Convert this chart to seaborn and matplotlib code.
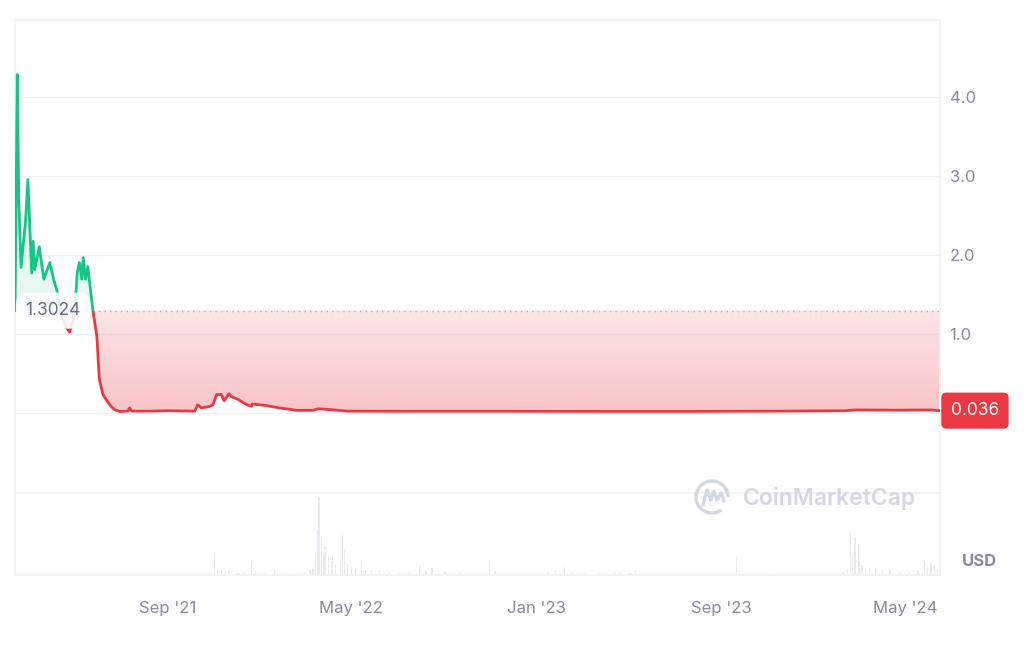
"""
Price history chart (CoinMarketCap style): price line split at the
opening price, gradient fills, volume strip underneath.
Output: out.png
"""

import pandas as pd
import numpy as np
import matplotlib
matplotlib.use("Agg")
import matplotlib.pyplot as plt
import matplotlib.dates as mdates
from matplotlib.patches import Rectangle, Arc
from matplotlib.path import Path
from matplotlib.lines import Line2D
import seaborn as sns

# ---- data ----
price_dates = [
    "2021-02-12", "2021-02-15", "2021-02-17", "2021-02-20", "2021-02-26",
    "2021-03-01", "2021-03-06", "2021-03-08", "2021-03-10", "2021-03-16",
    "2021-03-22", "2021-03-30", "2021-04-04", "2021-04-09", "2021-04-14",
    "2021-04-20", "2021-04-25", "2021-04-30", "2021-05-04", "2021-05-05",
    "2021-05-08", "2021-05-11", "2021-05-13", "2021-05-16", "2021-05-19",
    "2021-05-22", "2021-05-26", "2021-05-31", "2021-06-03", "2021-06-04",
    "2021-06-08", "2021-06-12", "2021-06-17", "2021-06-23", "2021-06-30",
    "2021-07-11", "2021-07-13", "2021-07-16", "2021-08-09", "2021-09-04",
    "2021-10-07", "2021-10-11", "2021-10-16", "2021-10-27", "2021-10-31",
    "2021-11-05", "2021-11-11", "2021-11-15", "2021-11-21", "2021-11-25",
    "2021-12-03", "2021-12-15", "2021-12-21", "2021-12-22", "2022-01-10",
    "2022-01-27", "2022-02-19", "2022-03-12", "2022-03-19", "2022-04-03",
    "2022-04-26", "2022-07-04", "2022-11-13", "2023-03-25", "2023-08-04",
    "2023-11-18", "2024-02-11", "2024-02-26", "2024-04-24", "2024-06-03",
    "2024-06-16",
]
price_values = [
    1.30, 4.29, 2.70, 1.85, 2.45,
    2.96, 1.78, 2.18, 1.82, 2.11,
    1.70, 1.91, 1.70, 1.53, 1.25,
    1.10, 1.03, 1.20, 1.60, 1.78,
    1.91, 1.70, 1.97, 1.70, 1.86,
    1.61, 1.29, 0.97, 0.47, 0.40,
    0.24, 0.18, 0.11, 0.05, 0.025,
    0.03, 0.07, 0.03, 0.03, 0.035,
    0.03, 0.11, 0.07, 0.09, 0.11,
    0.24, 0.24, 0.16, 0.25, 0.21,
    0.18, 0.11, 0.09, 0.12, 0.10,
    0.07, 0.04, 0.04, 0.06, 0.05,
    0.03, 0.028, 0.028, 0.027, 0.027,
    0.030, 0.035, 0.045, 0.042, 0.045,
    0.036,
]

vol_dates = [
    "2021-10-07", "2021-10-20", "2021-10-27", "2021-11-02", "2021-11-06",
    "2021-11-11", "2021-11-17", "2021-11-21", "2021-12-03", "2021-12-12",
    "2021-12-21", "2021-12-26", "2022-01-07", "2022-01-20", "2022-02-09",
    "2022-02-22", "2022-03-01", "2022-03-08", "2022-03-12", "2022-03-15",
    "2022-03-18", "2022-03-20", "2022-03-23", "2022-03-26", "2022-03-28",
    "2022-04-01", "2022-04-05", "2022-04-07", "2022-04-11", "2022-04-17",
    "2022-04-20", "2022-04-23", "2022-04-27", "2022-05-02", "2022-05-07",
    "2022-05-15", "2022-05-20", "2022-05-28", "2022-06-08", "2022-06-21",
    "2022-07-04", "2022-07-17", "2022-07-31", "2022-08-08", "2022-08-16",
    "2022-09-02", "2022-09-21", "2022-10-11", "2022-10-31", "2022-11-07",
    "2022-11-26", "2022-12-16", "2023-01-05", "2023-01-16", "2023-01-26",
    "2023-02-07", "2023-02-16", "2023-03-05", "2023-03-25", "2023-04-14",
    "2023-04-20", "2023-05-04", "2023-05-11", "2023-05-30", "2023-07-09",
    "2023-08-17", "2023-09-22", "2023-10-22", "2023-11-11", "2023-12-14",
    "2024-01-16", "2024-02-09", "2024-02-15", "2024-02-19", "2024-02-22",
    "2024-02-25", "2024-02-29", "2024-03-02", "2024-03-05", "2024-03-10",
    "2024-03-15", "2024-03-23", "2024-04-01", "2024-04-11", "2024-04-24",
    "2024-05-07", "2024-05-18", "2024-05-27", "2024-05-31", "2024-06-04",
    "2024-06-09", "2024-06-13",
]
vol_values = [
    1, 2, 3, 21, 4,
    5, 3, 4, 2, 3,
    12, 4, 2, 6, 2,
    2, 3, 5, 6, 17,
    45, 78, 35, 20, 28,
    18, 14, 19, 10, 13,
    40, 25, 10, 8, 6,
    13, 5, 4, 4, 3,
    2, 3, 10, 4, 7,
    3, 3, 2, 13, 4,
    2, 2, 2, 3, 4,
    8, 3, 2, 2, 3,
    3, 2, 4, 1, 1,
    1, 19, 1, 2, 1,
    1, 3, 6, 42, 20,
    37, 30, 14, 10, 8,
    7, 7, 4, 5, 3,
    3, 4, 13, 8, 12,
    10, 6,
]

OPEN_PRICE = 1.3024
OPEN_LABEL = "1.3024"
LAST_LABEL = "0.036"
X_START, X_END = "2021-02-12", "2024-06-16"
x_tick_dates = ["2021-09-01", "2022-05-01", "2023-01-01", "2023-09-01", "2024-05-01"]
x_tick_labels = ["Sep '21", "May '22", "Jan '23", "Sep '23", "May '24"]
y_ticks = [0, 1, 2, 3, 4]
y_tick_labels = ["", "1.0", "2.0", "3.0", "4.0"]

GREEN = "#16c784"
RED = "#ea3943"
GRID = "#eff2f5"
TEXT = "#858ca2"


def gradient_fill(ax, poly, rgb, a_low, a_high, y_low, y_high, x_lo, x_hi):
    """Paint a vertical alpha gradient clipped to the fill_between polygon."""
    grad = np.zeros((64, 1, 4))
    grad[..., :3] = matplotlib.colors.to_rgb(rgb)
    grad[:, 0, 3] = np.linspace(a_low, a_high, 64)
    im = ax.imshow(grad, extent=[x_lo, x_hi, y_low, y_high], origin="lower",
                   aspect="auto", zorder=1, interpolation="bilinear")
    paths = poly.get_paths()
    if paths:
        im.set_clip_path(Path.make_compound_path(*paths), ax.transData)
    poly.remove()


def main() -> None:
    sns.set_theme(style="white")
    plt.rcParams["font.family"] = ["Inter", "DejaVu Sans"]

    df = pd.DataFrame({"date": pd.to_datetime(price_dates), "price": price_values})
    vol = pd.DataFrame({"date": pd.to_datetime(vol_dates), "volume": vol_values})
    x0, x1 = pd.Timestamp(X_START), pd.Timestamp(X_END)
    nx0, nx1 = mdates.date2num(x0), mdates.date2num(x1)

    fig = plt.figure(figsize=(10.24, 6.45), dpi=100)
    ax = fig.add_axes([15 / 1024, 1 - 492.5 / 645, 925 / 1024, 472.5 / 645])
    axv = fig.add_axes([15 / 1024, 1 - 575 / 645, 925 / 1024, 82.5 / 645], sharex=ax)

    # fills between the price line and the opening price
    price = df["price"].to_numpy()
    below = ax.fill_between(df["date"], price, OPEN_PRICE,
                            where=price <= OPEN_PRICE, interpolate=True)
    above = ax.fill_between(df["date"], price, OPEN_PRICE,
                            where=price >= OPEN_PRICE, interpolate=True)
    gradient_fill(ax, below, RED, 0.30, 0.13, 0, OPEN_PRICE, nx0, nx1)
    gradient_fill(ax, above, GREEN, 0.09, 0.2, OPEN_PRICE, price.max(), nx0, nx1)

    # opening price reference
    ax.axhline(OPEN_PRICE, color="#a7adbb", linestyle=(0, (1, 3)), linewidth=1, zorder=2)

    # price line, coloured by side of the opening price
    sns.lineplot(data=df, x="date", y="price", color=RED, linewidth=2.0, ax=ax, zorder=3)
    red_line = ax.lines[-1]
    red_line.set_clip_path(Rectangle((nx0, -5), nx1 - nx0, OPEN_PRICE + 5,
                                     transform=ax.transData))
    sns.lineplot(data=df, x="date", y="price", color=GREEN, linewidth=2.0, ax=ax, zorder=3)
    green_line = ax.lines[-1]
    green_line.set_clip_path(Rectangle((nx0, OPEN_PRICE), nx1 - nx0, 10,
                                       transform=ax.transData))

    # volume strip
    axv.bar(vol["date"], vol["volume"], width=1.6, color="#e8ebf1", linewidth=0)
    axv.set_ylim(0, 83)
    axv.set_yticks([])

    ax.set_xlim(x0, x1)
    ax.set_ylim(-1, 4.98)
    ax.set_yticks(y_ticks)
    ax.set_yticklabels(y_tick_labels)
    ax.yaxis.tick_right()
    ax.tick_params(axis="y", length=0, pad=7, labelsize=12, labelcolor=TEXT)
    ax.tick_params(axis="x", bottom=False, labelbottom=False)
    ax.grid(axis="y", color=GRID, linewidth=1)
    ax.set_axisbelow(True)
    ax.set_xlabel("")
    ax.set_ylabel("")

    axv.set_xticks(pd.to_datetime(x_tick_dates))
    axv.set_xticklabels(x_tick_labels)
    axv.tick_params(axis="x", length=0, pad=19, labelsize=12, labelcolor=TEXT)
    axv.set_xlim(x0, x1)

    for a in (ax, axv):
        for side, sp in a.spines.items():
            sp.set_color(GRID)
            sp.set_linewidth(1.2)
    ax.spines["bottom"].set_visible(False)

    # price badges
    ax.annotate(OPEN_LABEL, xy=(0, OPEN_PRICE), xycoords=("axes fraction", "data"),
                xytext=(7.5, 0), textcoords="offset points", ha="left", va="center",
                fontsize=12.5, color="#616e85", zorder=10,
                bbox=dict(boxstyle="round,pad=0.55,rounding_size=0.7",
                          fc="white", ec="none", alpha=0.88))
    ax.annotate(LAST_LABEL, xy=(1, price[-1]), xycoords=("axes fraction", "data"),
                xytext=(7.8, 0), textcoords="offset points", ha="left", va="center",
                fontsize=12.5, color="white", zorder=10, annotation_clip=False,
                bbox=dict(boxstyle="round,pad=0.55,rounding_size=0.3",
                          fc=RED, ec="none"))

    fig.text(979 / 1024, 1 - 562 / 645, "USD", ha="center", va="center",
             fontsize=12, fontweight="bold", color=TEXT)

    # watermark
    wm = "#d3d9e4"
    fig.text(829 / 1024, 1 - 498 / 645, "CoinMarketCap", ha="center", va="center",
             fontsize=16.5, fontweight="semibold", color=wm, zorder=5)
    fig.add_artist(Arc((712 / 1024, 1 - 497 / 645), 32 / 1024, 32 / 645,
                       theta1=0, theta2=295, color=wm, linewidth=2.4,
                       transform=fig.transFigure))
    mx = np.array([703, 707, 711, 714, 717, 721, 724]) / 1024
    my = 1 - np.array([505, 490, 500, 491, 500, 493, 501]) / 645
    fig.add_artist(Line2D(mx, my, color=wm, linewidth=2.4,
                          transform=fig.transFigure, solid_joinstyle="round"))

    fig.savefig("out.png", dpi=100, facecolor="white")
    plt.close(fig)


if __name__ == "__main__":
    main()
